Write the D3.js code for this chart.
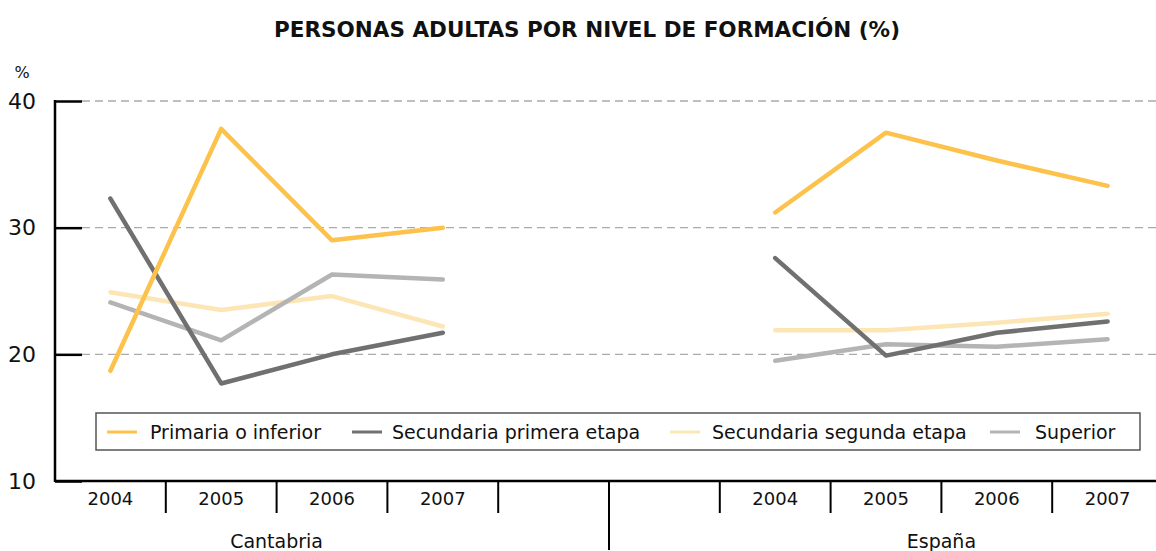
<!DOCTYPE html>
<html>
<head>
<meta charset="utf-8">
<script src="https://cdn.jsdelivr.net/npm/d3@7"></script>
<style>
  body { margin: 0; background: #fff; }
  svg { display: block; font-family: "DejaVu Sans", sans-serif; }
</style>
</head>
<body>
<svg id="chart" width="1156" height="551"></svg>
<script>
// data
var regions = ["Cantabria", "España"];
var years = ["2004", "2005", "2006", "2007"];
var yTicks = [10, 20, 30, 40];

var primaria = [18.7, 37.8, 29.0, 30.0, 31.2, 37.5, 35.3, 33.3];
var secPrimera = [32.3, 17.7, 20.0, 21.7, 27.6, 19.9, 21.7, 22.6];
var secSegunda = [24.9, 23.5, 24.6, 22.2, 21.9, 21.9, 22.5, 23.2];
var superior = [24.1, 21.1, 26.3, 25.9, 19.5, 20.8, 20.6, 21.2];

var seriesNames = ["Primaria o inferior", "Secundaria primera etapa", "Secundaria segunda etapa", "Superior"];
var seriesColors = ["#fdc24b", "#707070", "#fde6b6", "#b4b4b4"];

// 10 slots: 4 years Cantabria, 2 empty, 4 years España
var slots = years.map(function (y) { return "Cantabria-" + y; })
    .concat(["gap1", "gap2"])
    .concat(years.map(function (y) { return "España-" + y; }));

var svg = d3.select("#chart");

var x = d3.scaleBand().domain(slots).range([55, 1163]).padding(0);
var y = d3.scaleLinear().domain([10, 40]).range([481, 101]);

function keyOf(i) {
    return (i < 4 ? "Cantabria-" : "España-") + years[i % 4];
}

// title
svg.append("text")
    .attr("x", 587)
    .attr("y", 37)
    .attr("text-anchor", "middle")
    .attr("font-weight", "bold")
    .attr("font-size", "21.5")
    .attr("fill", "#111")
    .text("PERSONAS ADULTAS POR NIVEL DE FORMACIÓN (%)");

svg.append("text")
    .attr("x", 22)
    .attr("y", 78)
    .attr("text-anchor", "middle")
    .attr("font-size", "16")
    .attr("fill", "#111")
    .text("%");

// grid
svg.append("g").selectAll("line")
    .data(yTicks.filter(function (d) { return d > 10; }))
    .join("line")
    .attr("x1", 82)
    .attr("x2", 1156)
    .attr("y1", function (d) { return y(d); })
    .attr("y2", function (d) { return y(d); })
    .attr("stroke", "#aaaaaa")
    .attr("stroke-width", 1.3)
    .attr("stroke-dasharray", "8,5");

// y axis
var yAxis = svg.append("g")
    .attr("transform", "translate(55,0)")
    .call(d3.axisLeft(y).tickValues(yTicks).tickSize(-27).tickPadding(19).tickFormat(d3.format("d")));
yAxis.select(".domain").remove();
yAxis.selectAll(".tick line").attr("stroke", "#000").attr("stroke-width", 2.5);
yAxis.selectAll(".tick text")
    .attr("font-family", "'DejaVu Sans', sans-serif")
    .attr("font-size", "22")
    .attr("fill", "#111");

svg.append("line")
    .attr("x1", 55).attr("x2", 55)
    .attr("y1", y(40) - 1).attr("y2", y(10) + 1)
    .attr("stroke", "#000")
    .attr("stroke-width", 2.5);

// x axis
svg.append("line")
    .attr("x1", 55).attr("x2", 1156)
    .attr("y1", y(10)).attr("y2", y(10))
    .attr("stroke", "#000")
    .attr("stroke-width", 2.5);

var bounds = slots.slice(1);
svg.append("g").selectAll("line")
    .data(bounds)
    .join("line")
    .attr("x1", function (d) { return x(d); })
    .attr("x2", function (d) { return x(d); })
    .attr("y1", y(10))
    .attr("y2", function (d) { return d === "gap2" ? 550 : 513; })
    .attr("stroke", "#000")
    .attr("stroke-width", 2);

svg.append("g").selectAll("text")
    .data(slots.filter(function (d) { return d.indexOf("gap") !== 0; }))
    .join("text")
    .attr("x", function (d) { return x(d) + x.bandwidth() / 2; })
    .attr("y", 505)
    .attr("text-anchor", "middle")
    .attr("font-size", "18")
    .attr("fill", "#111")
    .text(function (d) { return d.split("-")[1]; });

svg.append("g").selectAll("text")
    .data(regions)
    .join("text")
    .attr("x", function (r) { return (x(r + "-2004") + x(r + "-2007") + x.bandwidth()) / 2; })
    .attr("y", 548)
    .attr("text-anchor", "middle")
    .attr("font-size", "19")
    .attr("fill", "#111")
    .text(function (d) { return d; });

// lines
var allSeries = [primaria, secPrimera, secSegunda, superior];
var drawOrder = [2, 3, 1, 0];
var line = d3.line()
    .x(function (d) { return x(d.key) + x.bandwidth() / 2; })
    .y(function (d) { return y(d.v); });

drawOrder.forEach(function (s) {
    var vals = allSeries[s].map(function (v, i) { return { key: keyOf(i), v: v }; });
    [vals.slice(0, 4), vals.slice(4)].forEach(function (seg) {
        svg.append("path")
            .attr("d", line(seg))
            .attr("fill", "none")
            .attr("stroke", seriesColors[s])
            .attr("stroke-width", 4.5)
            .attr("stroke-linecap", "round")
            .attr("stroke-linejoin", "round");
    });
});

// legend
var gLegend = svg.append("g");
gLegend.append("rect")
    .attr("x", 96).attr("y", 413)
    .attr("width", 1044).attr("height", 37)
    .attr("fill", "#fff")
    .attr("stroke", "#555")
    .attr("stroke-width", 1.5);

var legendLineX = [107, 352, 670, 990];
var legendTextX = [150, 392, 712, 1035];
seriesNames.forEach(function (name, i) {
    gLegend.append("line")
        .attr("x1", legendLineX[i]).attr("x2", legendLineX[i] + 30)
        .attr("y1", 432).attr("y2", 432)
        .attr("stroke", seriesColors[i])
        .attr("stroke-width", 3);
    gLegend.append("text")
        .attr("x", legendTextX[i])
        .attr("y", 438.5)
        .attr("font-size", "19")
        .attr("fill", "#111")
        .text(name);
});
</script>
</body>
</html>
